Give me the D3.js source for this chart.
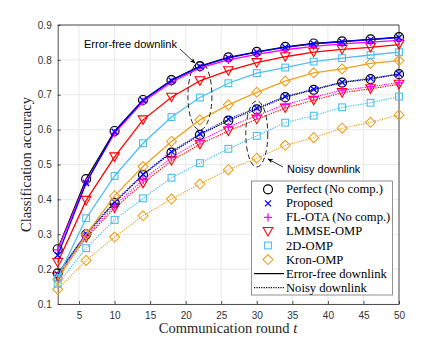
<!DOCTYPE html>
<html>
<head>
<meta charset="UTF-8">
<title>Classification accuracy vs communication round</title>
<script src="https://d3js.org/d3.v7.min.js"></script>
<style>
  body { margin: 0; background: #fff; }
  .tick text { font-family: "Liberation Sans", Arial, sans-serif; font-size: 10px; fill: #333; }
</style>
</head>
<body>
<div id="chart"></div>
<script>
// data
var rounds = [2, 6, 10, 14, 18, 22, 26, 30, 34, 38, 42, 46, 50];
var xTicks = [5, 10, 15, 20, 25, 30, 35, 40, 45, 50];
var yTicks = [0.1, 0.2, 0.3, 0.4, 0.5, 0.6, 0.7, 0.8, 0.9];

// error-free downlink
var perfectEF  = [0.257, 0.458, 0.596, 0.685, 0.742, 0.782, 0.807, 0.823, 0.837, 0.847, 0.853, 0.859, 0.865];
var proposedEF = [0.240, 0.447, 0.594, 0.684, 0.741, 0.781, 0.806, 0.822, 0.836, 0.846, 0.852, 0.858, 0.864];
var flotaEF    = [0.255, 0.450, 0.590, 0.680, 0.736, 0.777, 0.800, 0.816, 0.829, 0.839, 0.846, 0.851, 0.856];
var lmmseEF    = [0.219, 0.397, 0.522, 0.628, 0.693, 0.740, 0.769, 0.792, 0.809, 0.822, 0.830, 0.836, 0.844];
var omp2dEF    = [0.175, 0.346, 0.467, 0.561, 0.636, 0.692, 0.733, 0.762, 0.778, 0.795, 0.805, 0.814, 0.822];
var kronEF     = [0.170, 0.300, 0.410, 0.494, 0.566, 0.628, 0.671, 0.707, 0.739, 0.763, 0.774, 0.790, 0.798];

// noisy downlink
var perfectN  = [0.188, 0.300, 0.390, 0.470, 0.534, 0.585, 0.626, 0.658, 0.693, 0.714, 0.735, 0.745, 0.759];
var proposedN = [0.185, 0.302, 0.393, 0.472, 0.537, 0.588, 0.630, 0.662, 0.695, 0.716, 0.736, 0.747, 0.760];
var flotaN    = [0.182, 0.295, 0.382, 0.456, 0.520, 0.568, 0.608, 0.640, 0.672, 0.693, 0.713, 0.723, 0.735];
var lmmseN    = [0.178, 0.290, 0.375, 0.446, 0.511, 0.558, 0.596, 0.630, 0.662, 0.684, 0.706, 0.717, 0.730];
var omp2dN    = [0.158, 0.260, 0.341, 0.403, 0.462, 0.504, 0.545, 0.582, 0.620, 0.640, 0.664, 0.677, 0.695];
var kronN     = [0.142, 0.225, 0.292, 0.353, 0.401, 0.444, 0.485, 0.518, 0.555, 0.577, 0.604, 0.621, 0.642];

var methods = [
  {name: "Perfect (No comp.)",  color: "#000000", marker: "circle", ef: perfectEF,  noisy: perfectN},
  {name: "Proposed",            color: "#0000ff", marker: "x",      ef: proposedEF, noisy: proposedN},
  {name: "FL-OTA (No comp.)",   color: "#ff00ff", marker: "plus",   ef: flotaEF,    noisy: flotaN},
  {name: "LMMSE-OMP",           color: "#ff0000", marker: "tri",    ef: lmmseEF,    noisy: lmmseN},
  {name: "2D-OMP",              color: "#4dbeee", marker: "square", ef: omp2dEF,    noisy: omp2dN},
  {name: "Kron-OMP",            color: "#eda21f", marker: "diamond",ef: kronEF,     noisy: kronN}
];

var width = 442, height = 342;
var svg = d3.select("#chart").append("svg")
  .attr("width", width).attr("height", height);

var xScale = d3.scaleLinear().domain([2, 50]).range([57.7, 399]);
var yScale = d3.scaleLinear().domain([0.1, 0.9]).range([304, 25]);

// grid
svg.append("g").selectAll("line").data(xTicks).enter().append("line")
  .attr("x1", function(d) { return xScale(d); }).attr("x2", function(d) { return xScale(d); })
  .attr("y1", yScale(0.1)).attr("y2", yScale(0.9))
  .attr("stroke", "#e3e3e3").attr("stroke-width", 0.8);
svg.append("g").selectAll("line").data(yTicks).enter().append("line")
  .attr("x1", xScale(2)).attr("x2", xScale(50))
  .attr("y1", function(d) { return yScale(d); }).attr("y2", function(d) { return yScale(d); })
  .attr("stroke", "#e3e3e3").attr("stroke-width", 0.8);

// axes
var xAxis = d3.axisBottom(xScale).tickValues(xTicks).tickSizeInner(-3).tickSizeOuter(0).tickPadding(8);
var yAxis = d3.axisLeft(yScale).tickValues(yTicks).tickSizeInner(-3).tickSizeOuter(0).tickPadding(6)
  .tickFormat(d3.format(".1f"));

svg.append("g").attr("class", "axis")
  .attr("transform", "translate(0," + yScale(0.1) + ")").call(xAxis);
svg.append("g").attr("class", "axis")
  .attr("transform", "translate(" + xScale(2) + ",0)").call(yAxis);
svg.selectAll(".axis path, .axis line").attr("stroke", "#262626").attr("stroke-width", 0.8);

// box (top and right)
svg.append("path")
  .attr("d", "M" + xScale(2) + "," + yScale(0.9) + "H" + xScale(50) + "V" + yScale(0.1))
  .attr("fill", "none").attr("stroke", "#262626").attr("stroke-width", 0.8);

// axis labels
svg.append("text")
  .attr("x", 228).attr("y", 333)
  .attr("text-anchor", "middle")
  .attr("font-family", "Liberation Serif, serif").attr("font-size", 14.5).attr("fill", "#262626")
  .html('Communication round <tspan font-style="italic">t</tspan>');
svg.append("text")
  .attr("transform", "translate(31," + yScale(0.5) + ") rotate(-90)")
  .attr("text-anchor", "middle")
  .attr("font-family", "Liberation Serif, serif").attr("font-size", 14.5).attr("fill", "#262626")
  .text("Classification accuracy");

// markers
function drawMarker(g, type, color) {
  if (type === "circle") {
    g.append("circle").attr("r", 4.5).attr("fill", "none").attr("stroke", color).attr("stroke-width", 1.2);
  } else if (type === "x") {
    g.append("path").attr("d", "M-3,-3L3,3M-3,3L3,-3").attr("stroke", color).attr("stroke-width", 1.3);
  } else if (type === "plus") {
    g.append("path").attr("d", "M-4,0H4M0,-4V4").attr("stroke", color).attr("stroke-width", 1.3);
  } else if (type === "tri") {
    g.append("path").attr("d", "M-4.8,-4L4.8,-4L0,4.5Z").attr("fill", "none").attr("stroke", color).attr("stroke-width", 1.1);
  } else if (type === "square") {
    g.append("rect").attr("x", -3.4).attr("y", -3.4).attr("width", 6.8).attr("height", 6.8)
      .attr("fill", "none").attr("stroke", color).attr("stroke-width", 1.1);
  } else if (type === "diamond") {
    g.append("path").attr("d", "M0,-5L5,0L0,5L-5,0Z").attr("fill", "none").attr("stroke", color).attr("stroke-width", 1.1);
  }
}

var line = d3.line()
  .x(function(d, i) { return xScale(rounds[i]); })
  .y(function(d) { return yScale(d); });

// noisy first, error-free on top
function drawSeries(values, m, dotted) {
  var g = svg.append("g");
  g.append("path")
    .attr("d", line(values))
    .attr("fill", "none")
    .attr("stroke", m.color)
    .attr("stroke-width", dotted ? 1.2 : 1.3)
    .attr("stroke-dasharray", dotted ? "1.2,1.2" : null);
  g.selectAll("g.mk").data(values).enter().append("g")
    .attr("class", "mk")
    .attr("transform", function(d, i) { return "translate(" + xScale(rounds[i]) + "," + yScale(d) + ")"; })
    .each(function() { drawMarker(d3.select(this), m.marker, m.color); });
}

var drawOrder = [5, 4, 3, 0, 2, 1];
drawOrder.forEach(function(k) { drawSeries(methods[k].noisy, methods[k], true); });
drawOrder.forEach(function(k) { drawSeries(methods[k].ef, methods[k], false); });

// annotations
svg.append("defs").append("marker")
  .attr("id", "arrow").attr("viewBox", "0 0 10 10").attr("refX", 9).attr("refY", 5)
  .attr("markerWidth", 7).attr("markerHeight", 7).attr("orient", "auto")
  .append("path").attr("d", "M0,1L10,5L0,9L3,5Z").attr("fill", "#000");

svg.append("ellipse")
  .attr("cx", xScale(22)).attr("cy", 96).attr("rx", 12).attr("ry", 34)
  .attr("fill", "none").attr("stroke", "#222").attr("stroke-width", 1).attr("stroke-dasharray", "5,3");
svg.append("ellipse")
  .attr("cx", xScale(30)).attr("cy", 134).attr("rx", 11).attr("ry", 33)
  .attr("fill", "none").attr("stroke", "#222").attr("stroke-width", 1).attr("stroke-dasharray", "5,3");

svg.append("text").attr("x", 84).attr("y", 48)
  .attr("font-family", "Liberation Sans, Arial, sans-serif").attr("font-size", 11).attr("fill", "#000")
  .text("Error-free downlink");
svg.append("line").attr("x1", 180).attr("y1", 49).attr("x2", 195).attr("y2", 63)
  .attr("stroke", "#000").attr("stroke-width", 0.8).attr("marker-end", "url(#arrow)");

svg.append("text").attr("x", 287).attr("y", 173)
  .attr("font-family", "Liberation Sans, Arial, sans-serif").attr("font-size", 11).attr("fill", "#000")
  .text("Noisy downlink");
svg.append("line").attr("x1", 283).attr("y1", 167).attr("x2", 268).attr("y2", 159)
  .attr("stroke", "#000").attr("stroke-width", 0.8).attr("marker-end", "url(#arrow)");

// legend
var lg = svg.append("g");
lg.append("rect").attr("x", 251.5).attr("y", 181).attr("width", 141).attr("height", 114)
  .attr("fill", "#fff").attr("stroke", "#777").attr("stroke-width", 0.8);
var rowY = function(i) { return 189.3 + i * 14.05; };
methods.forEach(function(m, i) {
  var g = lg.append("g").attr("transform", "translate(268," + rowY(i) + ")");
  drawMarker(g, m.marker, m.color);
  lg.append("text").attr("x", 286).attr("y", rowY(i) + 4)
    .attr("font-family", "Liberation Serif, serif").attr("font-size", 12.6).attr("fill", "#000")
    .text(m.name);
});
var styleRows = [{name: "Error-free downlink", dotted: false}, {name: "Noisy downlink", dotted: true}];
styleRows.forEach(function(s, j) {
  var yy = rowY(6 + j);
  lg.append("line").attr("x1", 254).attr("x2", 284).attr("y1", yy).attr("y2", yy)
    .attr("stroke", "#000").attr("stroke-width", 1.2).attr("stroke-dasharray", s.dotted ? "1.2,1.2" : null);
  lg.append("text").attr("x", 286).attr("y", yy + 4)
    .attr("font-family", "Liberation Serif, serif").attr("font-size", 12.6).attr("fill", "#000")
    .text(s.name);
});
</script>
</body>
</html>
